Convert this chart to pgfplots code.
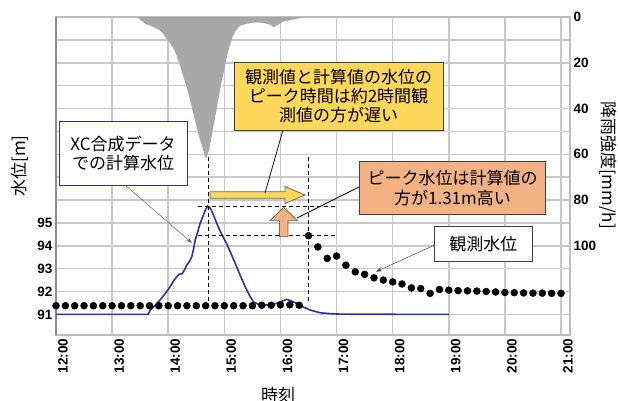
\documentclass[border=0pt]{standalone}
\usepackage{fontspec}
\setmainfont{Liberation Sans}
\newfontfamily\jp{Noto Sans CJK JP}
\usepackage{pgfplots}
\pgfplotsset{compat=1.18}
\usetikzlibrary{arrows.meta}
\pgfkeys{/pgf/number format/assume math mode=true}

\definecolor{gridc}{HTML}{C8C8C8}
\definecolor{framec}{HTML}{BDBDBD}
\definecolor{rainc}{HTML}{A8A8A8}
\definecolor{calc}{HTML}{3030A0}
\definecolor{yel}{HTML}{FFD75A}
\definecolor{ora}{HTML}{F4B183}

% rainfall [mm/h]
\pgfplotstableread{
t r
13.45 0
13.50 1.3
13.55 2.0
13.60 3.0
13.65 3.5
13.70 4.0
13.75 4.5
13.80 5.2
13.85 5.7
13.90 7.0
13.95 8.8
14.00 10.5
14.05 12.0
14.10 14.0
14.15 17.0
14.20 20.5
14.25 24.5
14.30 28.5
14.35 32.5
14.40 37.5
14.45 42.5
14.50 47.5
14.55 52.5
14.60 56.0
14.65 60.5
14.68 62.0
14.70 60.0
14.73 58.0
14.76 54.0
14.80 48.5
14.85 42.0
14.90 35.0
14.95 28.5
15.00 23.0
15.05 17.0
15.10 12.0
15.15 8.5
15.20 6.0
15.25 4.5
15.30 3.6
15.40 3.0
15.50 2.5
15.60 2.4
15.70 2.6
15.80 3.2
15.88 4.5
15.95 3.5
16.05 2.0
16.15 1.5
16.25 1.0
16.35 0.5
16.40 0
}\rain

% calculated water level (XC) [m]
\pgfplotstableread{
t h
12.00 91.00
13.64 91.00
13.68 91.19
13.77 91.40
13.85 91.62
13.95 91.92
14.03 92.20
14.10 92.48
14.15 92.64
14.20 92.76
14.25 92.78
14.29 92.95
14.33 93.15
14.38 93.32
14.42 93.52
14.45 93.85
14.48 94.24
14.53 94.65
14.57 94.99
14.62 95.30
14.66 95.55
14.70 95.73
14.73 95.70
14.77 95.55
14.83 95.20
14.89 94.83
14.96 94.47
15.04 94.10
15.13 93.60
15.22 93.08
15.31 92.55
15.40 92.06
15.46 91.78
15.52 91.55
15.60 91.45
15.70 91.41
15.80 91.42
15.93 91.48
16.03 91.58
16.11 91.66
16.18 91.60
16.29 91.48
16.40 91.33
16.53 91.19
16.71 91.07
16.90 91.03
17.10 91.01
19.00 91.00
}\calcwl

% observed water level [m]
\pgfplotstableread{
t h
12.0000 91.38
12.1667 91.38
12.3333 91.38
12.5000 91.38
12.6667 91.38
12.8333 91.38
13.0000 91.38
13.1667 91.38
13.3333 91.38
13.5000 91.38
13.6667 91.38
13.8333 91.38
14.0000 91.38
14.1667 91.38
14.3333 91.38
14.5000 91.38
14.6667 91.38
14.8333 91.38
15.0000 91.38
15.1667 91.38
15.3333 91.38
15.5000 91.38
15.6667 91.40
15.8333 91.40
16.0000 91.42
16.1667 91.42
16.3333 91.40
16.5000 94.44
16.6667 93.95
16.8333 93.45
17.0000 93.55
17.1667 93.15
17.3333 92.86
17.5000 92.75
17.6667 92.60
17.8333 92.50
18.0000 92.42
18.1667 92.33
18.3333 92.16
18.5000 92.13
18.6667 91.92
18.8333 92.09
19.0000 92.06
19.1667 92.04
19.3333 92.03
19.5000 92.02
19.6667 92.00
19.8333 91.98
20.0000 91.96
20.1667 91.95
20.3333 91.94
20.5000 91.93
20.6667 91.93
20.8333 91.92
21.0000 91.92
}\obswl

\begin{document}
\begin{tikzpicture}
% water level axis: frame, grid, left ticks, time ticks
\begin{axis}[
    at={(0,0)}, anchor=south west,
    scale only axis, width=514pt, height=318pt,
    xmin=12, xmax=21.16,
    ymin=90.1, ymax=104,
    grid=major,
    grid style={draw=gridc, line width=1.5pt},
    axis line style={draw=framec, line width=1.5pt},
    major tick length=0pt,
    xtick={12,...,21},
    xticklabels={12:00,13:00,14:00,15:00,16:00,17:00,18:00,19:00,20:00,21:00},
    xticklabel style={rotate=90, anchor=east, yshift=-7pt},
    ytick={91,92,...,103},
    yticklabels={91,92,93,94,95,,,,,,,,},
    ticklabel style={font=\fontsize{13.5}{16}\selectfont\bfseries},
    clip=false,
]
\draw[black!45, line width=1.8pt] (rel axis cs:0,0) -- (rel axis cs:0,1);
\addplot[calc, line width=1.6pt] table[x=t, y=h] {\calcwl};
\addplot[only marks, mark=*, mark size=3.5pt, black] table[x=t, y=h] {\obswl};
\draw[black, line width=1.1pt, dash pattern=on 4pt off 3pt]
    (axis cs:14.71,97.87) -- (axis cs:14.71,91.55)
    (axis cs:16.50,97.87) -- (axis cs:16.50,91.55)
    (axis cs:14.53,95.73) -- (axis cs:16.97,95.73)
    (axis cs:14.53,94.44) -- (axis cs:16.97,94.44);
\end{axis}

% rainfall axis (reversed, right)
\begin{axis}[
    at={(0,0)}, anchor=south west,
    scale only axis, width=514pt, height=318pt,
    xmin=12, xmax=21.16,
    ymin=0, ymax=139, y dir=reverse,
    hide x axis,
    axis y line*=right,
    y axis line style={draw=none},
    major tick length=0pt,
    ytick={0,20,...,100},
    ticklabel style={font=\fontsize{13.5}{16}\selectfont\bfseries},
]
\addplot[fill=rainc, draw=none] table[x=t, y=r] {\rain} \closedcycle;
\end{axis}

% big arrows
\draw[fill=yel, draw=black!60, line width=0.8pt]
    (154pt,136.7pt) -- (229pt,136.7pt) -- (229pt,131.5pt) -- (249pt,140pt)
    -- (229pt,148.5pt) -- (229pt,143.3pt) -- (154pt,143.3pt) -- cycle;
\draw[fill=ora, draw=black!60, line width=0.8pt]
    (223.5pt,98.3pt) -- (231.9pt,98.3pt) -- (231.9pt,114.3pt) -- (241.3pt,114.3pt)
    -- (227.7pt,127.7pt) -- (214pt,114.3pt) -- (223.5pt,114.3pt) -- cycle;

% callout lines
\draw[calc!80, line width=0.5pt, -{Stealth[length=6pt,width=4pt]}] (69pt,150pt) -- (136pt,92pt);
\draw[black, line width=0.7pt] (227pt,205pt) -- (209pt,142pt);
\draw[black, line width=0.7pt] (303pt,148pt) -- (241pt,117pt);
\draw[black!70, line width=0.5pt, -{Stealth[length=6pt,width=4pt]}] (378pt,89.7pt) -- (320pt,63.3pt);

% callout boxes
\node[draw=calc, fill=white, line width=0.8pt, minimum width=128pt, minimum height=64pt,
      align=center, inner sep=2pt, font=\jp\fontsize{17}{19}\selectfont]
    at (67pt,182pt) {XC合成データ\\での計算水位};
\node[draw=black!75, fill=yel, line width=0.8pt, minimum width=209pt, minimum height=68pt,
      align=center, inner sep=2pt, font=\jp\fontsize{17}{19}\selectfont]
    at (282.5pt,239pt) {観測値と計算値の水位の\\ピーク時間は約2時間観\\測値の方が遅い};
\node[draw=black!75, fill=ora, line width=0.8pt, minimum width=186pt, minimum height=53pt,
      align=center, inner sep=2pt, font=\jp\fontsize{17}{20}\selectfont]
    at (396.5pt,147pt) {ピーク水位は計算値の\\方が1.31m高い};
\node[draw=black!75, fill=white, line width=0.8pt, minimum width=98pt, minimum height=35pt,
      align=center, inner sep=2pt, font=\jp\fontsize{17}{19}\selectfont]
    at (427.3pt,90.8pt) {観測水位};

% axis titles
\node[rotate=90, font=\jp\fontsize{17}{19}\selectfont] at (-36pt,169pt) {水位[m]};
\node[rotate=-90, font=\jp\fontsize{17}{19}\selectfont] at (552pt,170pt) {降雨強度[mm/h]};
\node[font=\jp\fontsize{17}{19}\selectfont, anchor=north] at (222pt,-49pt) {時刻};

\pgfresetboundingbox
\path[use as bounding box] (-56pt,-65pt) rectangle (562pt,335pt);
\end{tikzpicture}
\end{document}
